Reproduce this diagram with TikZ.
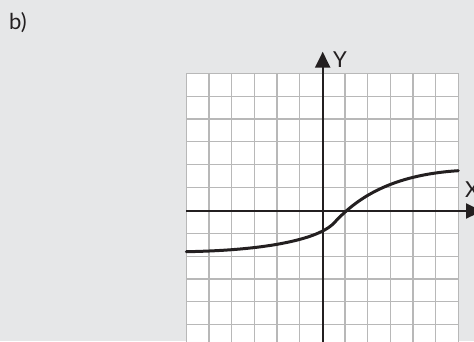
\documentclass[tikz,border=0pt]{standalone}
\usepackage{fontspec}
\setmainfont{Lato}
\usetikzlibrary{arrows.meta}
\definecolor{bg}{HTML}{E6E7E8}
\definecolor{gridc}{HTML}{B8B8B8}
\definecolor{ink}{HTML}{231F20}
\tikzset{
  gridline/.style={draw=gridc, line width=1.2pt},
  axisline/.style={draw=ink, line width=2.3pt, -{Triangle[length=16pt,width=15pt]}},
  curveline/.style={draw=ink, line width=3pt, line cap=round},
  lbl/.style={font=\fontsize{22}{25}\selectfont, text=ink, inner sep=0pt}
}
\begin{document}
\begin{tikzpicture}[x=1pt,y=-1pt]
\fill[bg] (0,0) rectangle (474,341);
\useasboundingbox (0,0) rectangle (474,341);
\fill[white] (186.3,73.3) rectangle (458.3,345);
\begin{scope}
  \clip (185,72) rectangle (460,341);
  \foreach \i in {0,...,12}
    \draw[gridline] ({186.3+\i*22.667},73.3) -- ++(0,275);
  \foreach \j in {0,...,11}
    \draw[gridline] (186.3,{73.3+\j*22.85}) -- (458.3,{73.3+\j*22.85});
\end{scope}
\coordinate (xs) at (186.3,211);
\coordinate (xe) at (482,211);
\coordinate (ys) at (322.7,345);
\coordinate (ye) at (322.7,51.7);
\draw[axisline] (xs) -- (xe);
\draw[axisline] (ys) -- (ye);
\coordinate (c0) at (186.3,251.7);
\coordinate (c1) at (334,223);
\coordinate (c2) at (458.3,170.7);
\draw[curveline] (c0) .. controls (280,250) and (322,236) .. (c1)
  .. controls (356,199) and (390,175) .. (c2);
\node[lbl, anchor=west] (ylab) at (333,60) {Y};
\node[lbl, anchor=west] (xlab) at (465,189.5) {X};
\node[lbl, anchor=base west] (blab) at (9,29) {b)};
\end{tikzpicture}
\end{document}
